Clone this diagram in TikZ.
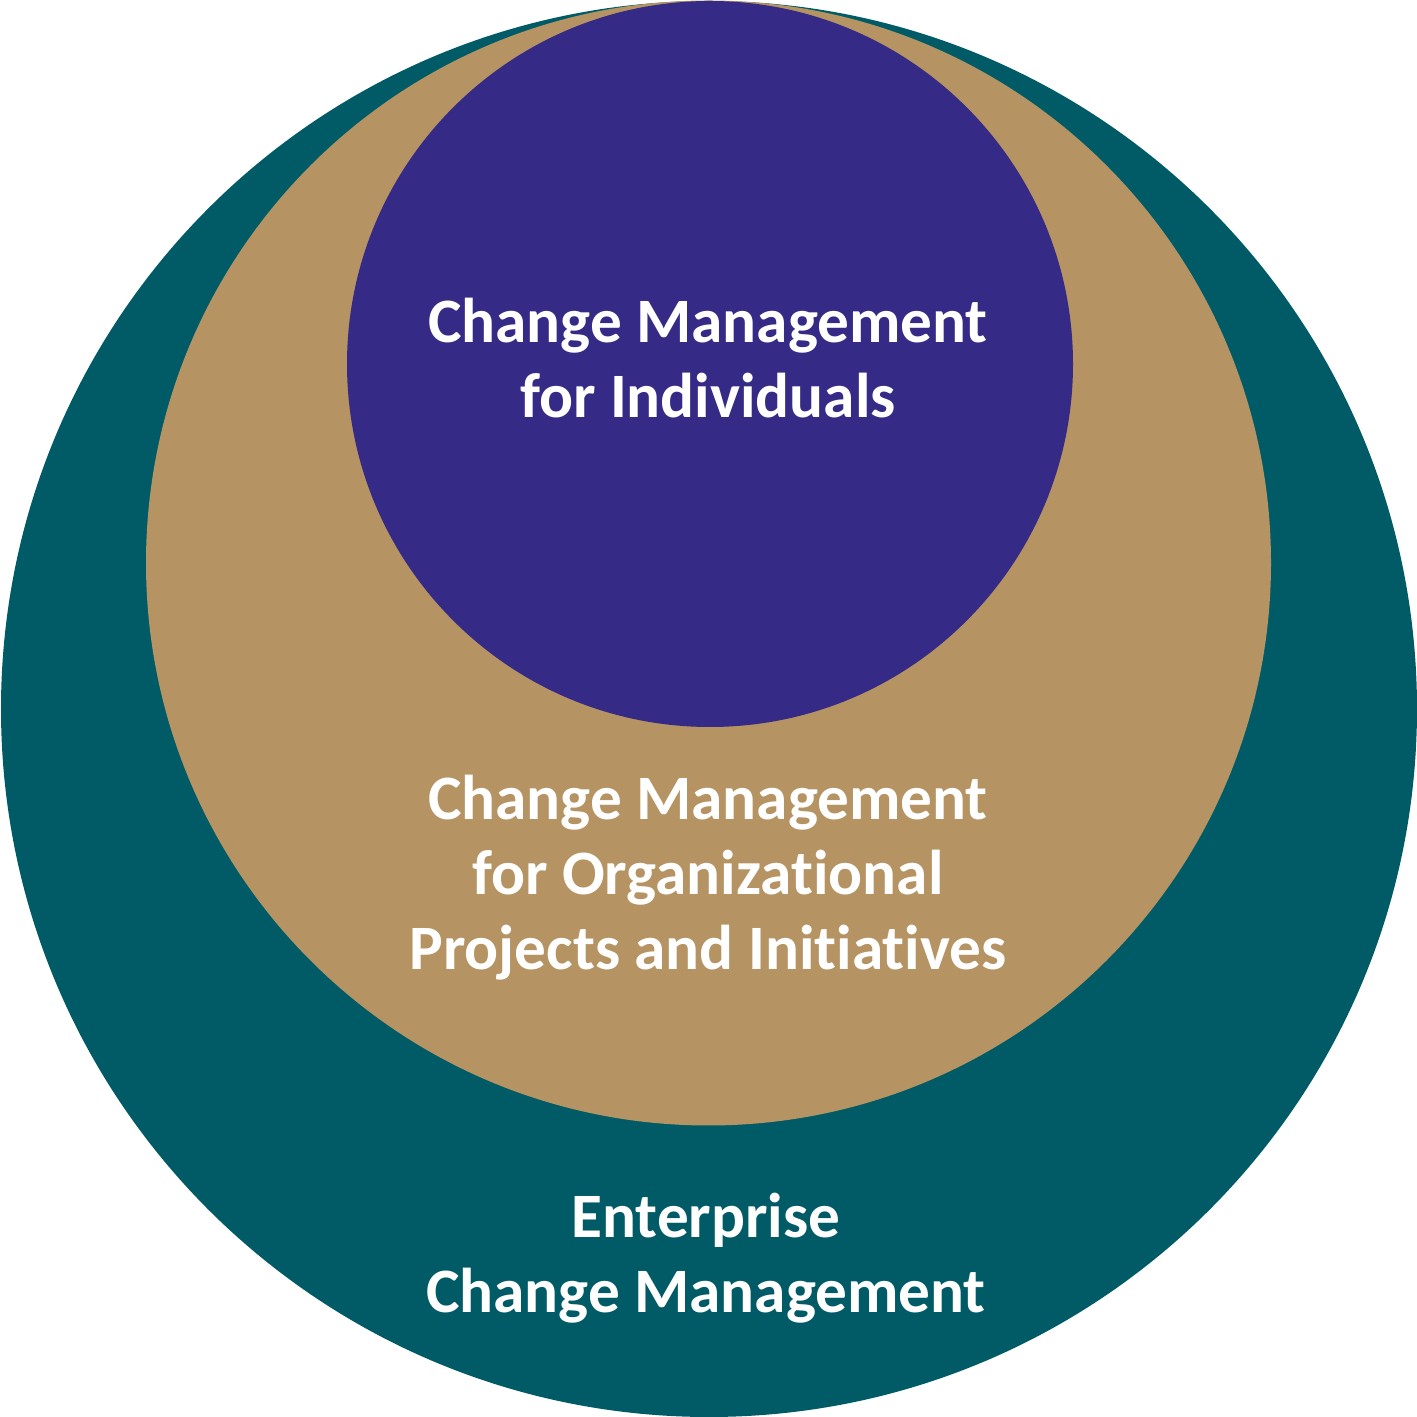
\documentclass[tikz,border=0pt]{standalone}
\usepackage{fontspec}
\setmainfont[RawFeature={-liga;-clig;-calt;-dlig}]{Carlito}
\definecolor{entcol}{HTML}{005B67}
\definecolor{orgcol}{HTML}{B59362}
\definecolor{indcol}{HTML}{352A85}

\begin{document}
\begin{tikzpicture}[ring/.style={circle,inner sep=0pt,draw=none},
  lbl/.style={text=white,align=center,font=\bfseries\fontsize{18}{21.3}\selectfont}]
  \useasboundingbox (0,0) rectangle (14.17,14.17);
  \node [ring,fill=entcol,minimum size=14.16cm] (ent) at (7.09,7.08) {};
  \node [ring,fill=orgcol,minimum size=11.25cm] (org) at (7.085,8.54) {};
  \node [ring,fill=indcol,minimum size=7.26cm] (ind) at (7.10,10.53) {};
  \node [lbl] (indtxt) at (7.08,10.59) {Change Management\\for Individuals};
  \node [lbl] (orgtxt) at (7.08,5.39) {Change Management\\for Organizational\\Projects and Initiatives};
  \node [lbl] (enttxt) at (7.06,1.59) {Enterprise\\Change Management};
\end{tikzpicture}
\end{document}
